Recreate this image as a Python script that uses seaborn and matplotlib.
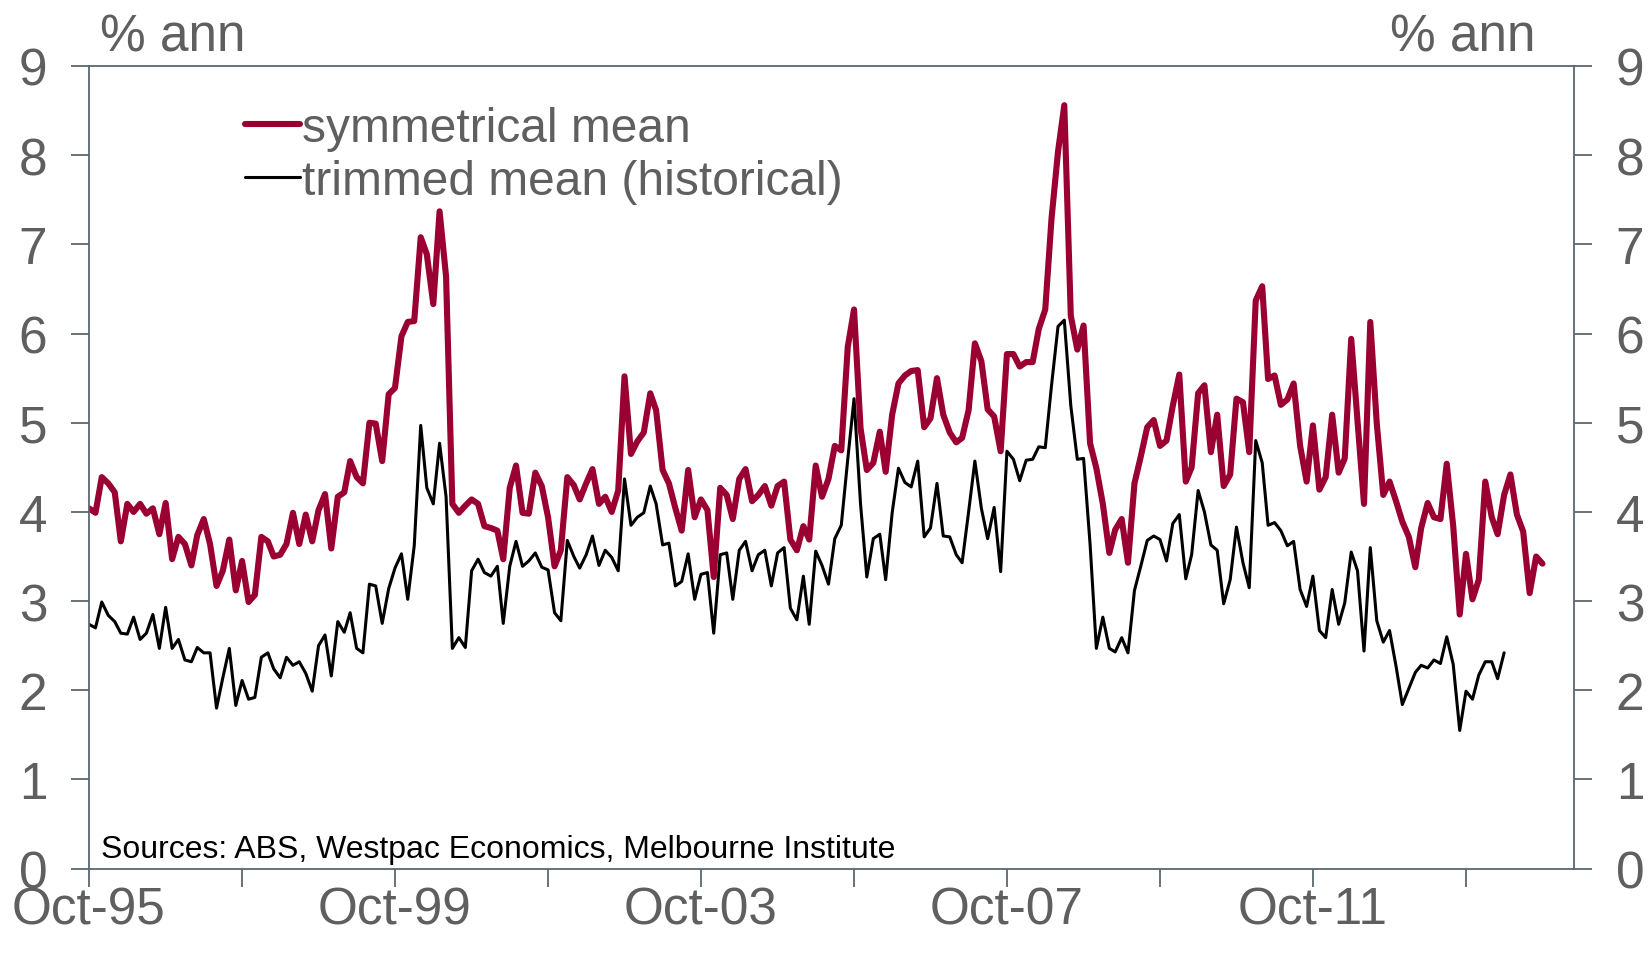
import pandas as pd
import numpy as np
import matplotlib
matplotlib.use("Agg")
import matplotlib.pyplot as plt
import seaborn as sns

# -----------------------------
# Data (monthly, % ann, from Oct-95)
# -----------------------------
symmetrical_mean = [
    4.04, 3.99, 4.39, 4.32, 4.22, 3.67, 4.09, 4.00, 4.09, 3.98,
    4.04, 3.75, 4.10, 3.47, 3.72, 3.64, 3.40, 3.74, 3.92, 3.64,
    3.17, 3.34, 3.69, 3.12, 3.45, 2.99, 3.07, 3.72, 3.67, 3.50,
    3.52, 3.64, 3.99, 3.64, 3.97, 3.67, 4.02, 4.20, 3.59, 4.17,
    4.22, 4.57, 4.39, 4.32, 5.00, 4.99, 4.57, 5.32, 5.39, 5.97,
    6.13, 6.14, 7.08, 6.89, 6.33, 7.37, 6.64, 4.09, 3.99, 4.07,
    4.14, 4.09, 3.84, 3.82, 3.79, 3.47, 4.27, 4.52, 3.99, 3.98,
    4.44, 4.29, 3.94, 3.39, 3.57, 4.39, 4.30, 4.14, 4.32, 4.48,
    4.09, 4.17, 4.00, 4.24, 5.52, 4.65, 4.79, 4.89, 5.33, 5.14,
    4.47, 4.32, 4.04, 3.79, 4.47, 3.94, 4.14, 4.02, 3.27, 4.27,
    4.19, 3.92, 4.37, 4.48, 4.12, 4.19, 4.29, 4.07, 4.29, 4.34,
    3.69, 3.57, 3.84, 3.69, 4.52, 4.17, 4.37, 4.74, 4.69, 5.85,
    6.27, 4.94, 4.47, 4.55, 4.90, 4.45, 5.09, 5.44, 5.53, 5.58,
    5.59, 4.95, 5.05, 5.50, 5.09, 4.89, 4.78, 4.83, 5.14, 5.89,
    5.69, 5.15, 5.07, 4.68, 5.77, 5.77, 5.63, 5.68, 5.68, 6.05,
    6.27, 7.29, 8.04, 8.56, 6.20, 5.82, 6.09, 4.77, 4.49, 4.09,
    3.54, 3.80, 3.92, 3.43, 4.32, 4.62, 4.95, 5.03, 4.74, 4.80,
    5.19, 5.54, 4.34, 4.50, 5.33, 5.42, 4.67, 5.09, 4.29, 4.42,
    5.27, 5.23, 4.67, 6.37, 6.53, 5.49, 5.53, 5.20, 5.26, 5.44,
    4.74, 4.34, 4.97, 4.25, 4.39, 5.09, 4.44, 4.60, 5.94, 5.02,
    4.09, 6.13, 4.99, 4.19, 4.34, 4.12, 3.89, 3.72, 3.38, 3.82,
    4.10, 3.94, 3.92, 4.54, 3.84, 2.85, 3.53, 3.02, 3.24, 4.34,
    3.94, 3.75, 4.19, 4.42, 3.97, 3.78, 3.09, 3.50, 3.42,
]

trimmed_mean = [
    2.74, 2.70, 2.99, 2.84, 2.77, 2.64, 2.63, 2.82, 2.57, 2.64,
    2.85, 2.47, 2.93, 2.47, 2.57, 2.34, 2.32, 2.48, 2.42, 2.42,
    1.80, 2.14, 2.47, 1.83, 2.11, 1.90, 1.92, 2.37, 2.42, 2.24,
    2.14, 2.37, 2.28, 2.32, 2.19, 1.99, 2.50, 2.62, 2.16, 2.77,
    2.65, 2.87, 2.47, 2.42, 3.19, 3.17, 2.75, 3.14, 3.37, 3.53,
    3.02, 3.62, 4.97, 4.27, 4.09, 4.77, 4.17, 2.47, 2.59, 2.48,
    3.34, 3.47, 3.32, 3.28, 3.39, 2.75, 3.39, 3.67, 3.39, 3.45,
    3.54, 3.38, 3.35, 2.87, 2.78, 3.68, 3.50, 3.37, 3.52, 3.73,
    3.40, 3.57, 3.49, 3.34, 4.37, 3.85, 3.94, 3.99, 4.29, 4.09,
    3.63, 3.65, 3.17, 3.22, 3.53, 3.02, 3.30, 3.32, 2.64, 3.52,
    3.54, 3.02, 3.57, 3.67, 3.34, 3.52, 3.57, 3.17, 3.54, 3.60,
    2.92, 2.79, 3.28, 2.74, 3.56, 3.40, 3.19, 3.70, 3.85, 4.59,
    5.27, 4.09, 3.27, 3.70, 3.75, 3.24, 3.99, 4.49, 4.33, 4.28,
    4.57, 3.72, 3.82, 4.32, 3.73, 3.72, 3.52, 3.43, 4.00, 4.57,
    4.04, 3.70, 4.05, 3.33, 4.68, 4.59, 4.35, 4.58, 4.59, 4.73,
    4.72, 5.42, 6.08, 6.15, 5.19, 4.59, 4.60, 3.64, 2.47, 2.82,
    2.47, 2.43, 2.59, 2.42, 3.12, 3.39, 3.68, 3.73, 3.69, 3.45,
    3.87, 3.97, 3.25, 3.52, 4.24, 4.00, 3.63, 3.57, 2.97, 3.24,
    3.83, 3.43, 3.15, 4.80, 4.55, 3.85, 3.88, 3.79, 3.62, 3.67,
    3.13, 2.94, 3.28, 2.67, 2.59, 3.13, 2.74, 2.98, 3.55, 3.34,
    2.44, 3.60, 2.78, 2.54, 2.67, 2.27, 1.84, 2.02, 2.20, 2.28,
    2.25, 2.34, 2.30, 2.60, 2.29, 1.55, 1.99, 1.90, 2.17, 2.32,
    2.32, 2.13, 2.42,
]

start_month = "1995-10-01"
sym_dates = pd.date_range(start_month, periods=len(symmetrical_mean), freq="MS")
trim_dates = pd.date_range(start_month, periods=len(trimmed_mean), freq="MS")

tick_years = list(range(1995, 2015, 2))
tick_dates = [pd.Timestamp(f"{y}-10-01") for y in tick_years]
tick_labels = [f"Oct-{str(y)[2:]}" if (y - 1995) % 4 == 0 else "" for y in tick_years]

# -----------------------------
# Style
# -----------------------------
sns.set_style("white")
plt.rcParams["font.family"] = ["Liberation Sans", "DejaVu Sans"]

RED = "#9A0032"
GREY_TEXT = "#5F5F5F"
AXIS_COL = "#5B6770"

fig = plt.figure(figsize=(16.51, 9.54), dpi=100)
ax = fig.add_axes([0.0539, 0.0884, 0.8995, 0.8414])

sym_df = pd.DataFrame({"date": sym_dates, "value": symmetrical_mean})
trim_df = pd.DataFrame({"date": trim_dates, "value": trimmed_mean})

sns.lineplot(data=sym_df, x="date", y="value", ax=ax, color=RED,
             linewidth=4.4, label="symmetrical mean")
sns.lineplot(data=trim_df, x="date", y="value", ax=ax, color="black",
             linewidth=2.2, label="trimmed mean (historical)")

ax.set_xlim(pd.Timestamp("1995-10-01"), pd.Timestamp("2015-03-01"))
ax.set_ylim(0, 9)
ax.set_yticks(range(0, 10))
ax.set_xticks(tick_dates)
ax.set_xticklabels(tick_labels)
ax.set_xlabel("")
ax.set_ylabel("")

for sp in ax.spines.values():
    sp.set_color(AXIS_COL)
    sp.set_linewidth(1.3)

ax.tick_params(axis="both", direction="out", length=13, width=1.3,
               color=AXIS_COL, labelcolor=GREY_TEXT, labelsize=37)
ax.tick_params(axis="y", left=True, right=True, labelleft=True,
               labelright=True, pad=17)
ax.tick_params(axis="x", bottom=True, pad=-1)

leg = ax.legend(loc="upper left", bbox_to_anchor=(0.105, 0.95),
                frameon=False, fontsize=34.5, handlelength=1.15,
                handletextpad=0.05, labelspacing=0.16, borderpad=0,
                borderaxespad=0)
for t in leg.get_texts():
    t.set_color(GREY_TEXT)

fig.text(0.0606, 0.96, "% ann", fontsize=37, color=GREY_TEXT,
         ha="left", va="center")
fig.text(0.930, 0.96, "% ann", fontsize=37, color=GREY_TEXT,
         ha="right", va="center")

ax.text(0.008, 0.025, "Sources: ABS, Westpac Economics, Melbourne Institute",
        transform=ax.transAxes, fontsize=23, color="black",
        ha="left", va="center")

plt.savefig("out.png", dpi=100)
